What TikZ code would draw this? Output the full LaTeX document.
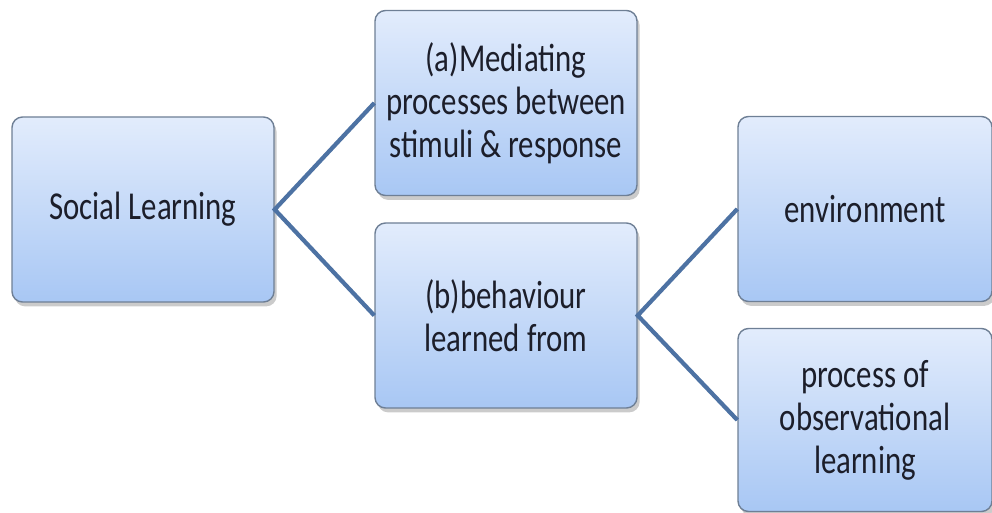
\documentclass[tikz,border=0pt]{standalone}
\usepackage{fontspec}
\setmainfont{Carlito}
\newfontfamily\topicfont[FakeStretch=0.78]{Carlito}
\usepackage{tikz}
\usetikzlibrary{shadows}

\definecolor{boxtop}{HTML}{E2ECFC}
\definecolor{boxbot}{HTML}{A8C7F4}
\definecolor{boxrim}{HTML}{6E7F95}
\definecolor{linkblue}{HTML}{4D72A3}
\definecolor{inktext}{HTML}{1C1E2A}

\tikzset{
  topic/.style={draw=boxrim, line width=0.8pt, rounded corners=6pt,
    top color=boxtop, bottom color=boxbot, align=center,
    minimum width=262*0.02cm, minimum height=185*0.02cm,
    text=inktext, font=\topicfont\fontsize{22.5}{24.5}\selectfont,
    drop shadow={shadow xshift=1.5pt, shadow yshift=-2.5pt, fill=black!45, opacity=0.45}},
  link/.style={draw=linkblue, line width=2.4pt}
}

\begin{document}
\begin{tikzpicture}[x=0.02cm, y=-0.02cm]
\useasboundingbox (0,0) rectangle (992,513);

\path (143,209.5) node[topic] (SL) {Social Learning};
\path (506,103)   node[topic] (MA) {(a)Mediating\\processes between\\stimuli \& response};
\path (506,315.5) node[topic] (BL) {(b)behaviour\\learned from};
\path (865,209)   node[topic, minimum width=254*0.02cm] (EN) {environment};
\path (865,420)   node[topic, minimum width=254*0.02cm, minimum height=183*0.02cm] (PO) {process of\\observational\\learning};

\draw[link] (MA.west) -- (SL.east) -- (BL.west);
\draw[link] (EN.west) -- (BL.east) -- (PO.west);
\end{tikzpicture}
\end{document}
